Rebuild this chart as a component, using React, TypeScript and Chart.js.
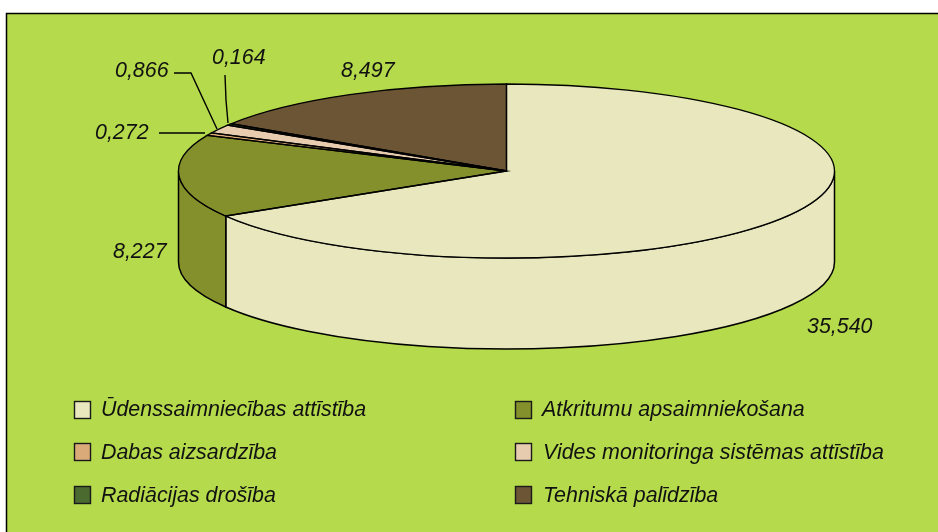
import React, { useEffect, useRef } from "react";
import { Chart, registerables } from "chart.js";

Chart.register(...registerables);

const categories = [
  "Ūdenssaimniecības attīstība",
  "Atkritumu apsaimniekošana",
  "Dabas aizsardzība",
  "Vides monitoringa sistēmas attīstība",
  "Radiācijas drošība",
  "Tehniskā palīdzība",
];
const values = [35.54, 8.227, 0.272, 0.866, 0.164, 8.497];
const valueLabels = ["35,540", "8,227", "0,272", "0,866", "0,164", "8,497"];
const colors = ["#E8E7BD", "#83902B", "#DAAB78", "#E8CCB0", "#4A6A30", "#6B5535"];

const CX = 506.5, CY = 171, RX = 328, RY = 87, DEPTH = 91;
const BG = "#B5DA4B";
const INK = "#111111";

const valuePos = [
  [807, 333], [113, 258], [95, 139], [115, 77], [212, 64], [341, 77],
];
const leaders = [
  null, null,
  [[159, 133], [205, 133]],
  [[174, 73], [191, 73], [217, 129]],
  [[225, 75], [226, 100], [228, 123]],
  null,
];
const legendCells = [
  [74, 401, 101, 416], [515, 401, 542, 416],
  [74, 443, 101, 459], [515, 443, 543, 459],
  [74, 486, 101, 502], [515, 486, 543, 502],
];

const pie3d = {
  id: "pie3d",
  beforeDraw(chart: any) {
    const { ctx, width, height } = chart;
    ctx.save();
    ctx.fillStyle = "#FFFFFF";
    ctx.fillRect(0, 0, width, height);
    ctx.fillStyle = BG;
    ctx.fillRect(6, 13, width, height);
    ctx.strokeStyle = "#000";
    ctx.lineWidth = 1.5;
    ctx.beginPath();
    ctx.moveTo(6.5, height);
    ctx.lineTo(6.5, 13.5);
    ctx.lineTo(width, 13.5);
    ctx.stroke();
    ctx.restore();
  },
  beforeDatasetsDraw(chart: any) {
    const { ctx } = chart;
    const arcs = chart.getDatasetMeta(0).data;
    ctx.save();
    ctx.lineWidth = 1.5;
    ctx.strokeStyle = "#000";
    arcs.forEach((arc: any, i: number) => {
      const a = Math.max(arc.startAngle, 0);
      const b = Math.min(arc.endAngle, Math.PI);
      if (b <= a) return;
      ctx.beginPath();
      ctx.ellipse(CX, CY, RX, RY, 0, a, b);
      ctx.ellipse(CX, CY + DEPTH, RX, RY, 0, b, a, true);
      ctx.closePath();
      ctx.fillStyle = colors[i];
      ctx.fill();
      ctx.stroke();
    });
    ctx.restore();
    const arc0 = arcs[0];
    ctx.save();
    ctx.translate(CX, CY);
    ctx.scale(RX / arc0.outerRadius, RY / arc0.outerRadius);
    ctx.translate(-arc0.x, -arc0.y);
  },
  afterDatasetsDraw(chart: any) {
    const { ctx } = chart;
    ctx.restore();
    const arcs = chart.getDatasetMeta(0).data;
    ctx.save();
    ctx.lineWidth = 1.3;
    ctx.strokeStyle = "#000";
    arcs.forEach((arc: any) => {
      ctx.beginPath();
      ctx.moveTo(CX, CY);
      ctx.ellipse(CX, CY, RX, RY, 0, arc.startAngle, arc.endAngle);
      ctx.closePath();
      ctx.stroke();
    });
    ctx.lineWidth = 1.4;
    leaders.forEach((pts) => {
      if (!pts) return;
      ctx.beginPath();
      pts.forEach((p, k) => (k ? ctx.lineTo(p[0], p[1]) : ctx.moveTo(p[0], p[1])));
      ctx.stroke();
    });
    ctx.fillStyle = INK;
    ctx.textBaseline = "alphabetic";
    ctx.textAlign = "left";
    ctx.font = "italic 21.4px 'Liberation Sans'";
    valueLabels.forEach((t, i) => ctx.fillText(t, valuePos[i][0], valuePos[i][1]));
    categories.forEach((name, i) => {
      const c = legendCells[i];
      ctx.fillStyle = colors[i];
      ctx.fillRect(c[0], c[1], 17, 18);
      ctx.strokeStyle = "#1a1a1a";
      ctx.lineWidth = 1.4;
      ctx.strokeRect(c[0] + 0.5, c[1] + 0.5, 16, 17);
      ctx.fillStyle = INK;
      ctx.fillText(name, c[2], c[3]);
    });
    ctx.restore();
  },
};

export default function App() {
  const ref = useRef<HTMLCanvasElement>(null);
  useEffect(() => {
    const chart = new Chart(ref.current as HTMLCanvasElement, {
      type: "pie",
      data: {
        labels: categories,
        datasets: [{ data: values, backgroundColor: colors, borderWidth: 0, clip: false } as any],
      },
      options: {
        responsive: false,
        animation: false,
        plugins: { legend: { display: false }, tooltip: { enabled: false } },
      },
      plugins: [pie3d],
    });
    return () => chart.destroy();
  }, []);
  return (
    <div style={{ position: "fixed", left: 0, top: 0, width: 938, height: 532 }}>
      <canvas ref={ref} width={938} height={532} style={{ display: "block" }} />
    </div>
  );
}
